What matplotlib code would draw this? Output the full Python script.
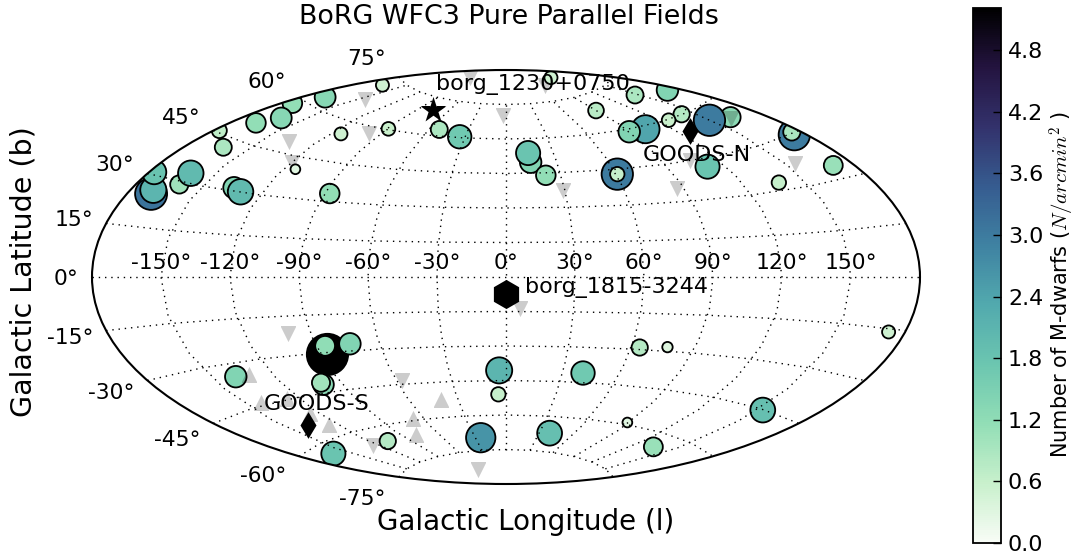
"""BoRG WFC3 pure parallel fields, M-dwarf counts on the sky (aitoff)"""
import numpy as np
import matplotlib
matplotlib.use('Agg')
import matplotlib.pyplot as plt
from matplotlib.colors import LinearSegmentedColormap, Normalize
from matplotlib.projections.geo import AitoffAxes
from matplotlib.transforms import Affine2D

# fields with M-dwarfs: galactic l, b in degrees, density in N/arcmin^2
field_l = [-169.4, -170.0, -177.8, -160.8, -161.0, -134.6, -130.0, -162.2, -177.4, -168.2,
           -175.0, -161.6, -169.0, -164.6, -113.4, -88.6, -113.8, -87.4, -52.2, -33.8,
           133.4, 144.8, 172.6, 88.4, 140.8, 126.0, 102.4, 89.8, 162.4, 148.4, 174.6, 175.8,
           170.6, 137.2, 110.6, 14.6, 14.0, 21.8, 60.6, 60.6,
           -86.8, -85.8, -73.8, -138.4, -99.6, -100.0, -159.6, -106.6, -24.4, -3.6, -4.6,
           40.8, 64.0, 77.0, 172.8, 152.6, 88.8, 134.4, 38.8]
field_b = [25.0, 26.2, 30.8, 29.2, 33.0, 31.2, 30.2, 42.2, 45.6, 50.8,
           58.4, 54.4, 63.2, 72.0, 55.4, 60.4, 40.6, 33.2, 62.8, 60.4,
           83.0, 69.6, 66.6, 68.8, 60.2, 59.8, 58.8, 59.0, 54.6, 56.0, 44.6, 45.4,
           34.2, 32.8, 42.0, 49.8, 53.8, 44.0, 43.0, 43.0,
           -30.8, -27.4, -27.2, -34.6, -42.0, -41.2, -63.6, -65.8, -69.6, -40.6, -51.0,
           -41.0, -29.2, -28.4, -16.0, -45.2, -59.2, -64.8, -67.2]
field_n = [3.12, 2.08, 1.8, 1.02, 1.98, 1.41, 1.98, 0.88, 0.69, 1.17,
           1.17, 1.33, 1.33, 0.52, 0.52, 0.57, 0.29, 1.17, 0.88, 1.68,
           0.52, 0.88, 1.41, 0.75, 0.81, 0.57, 2.4, 1.41, 1.25, 3.0, 3.0, 0.9,
           1.09, 0.63, 1.78, 1.41, 1.78, 1.17, 3.0, 0.63,
           5.2, 1.2, 1.41, 1.41, 1.3, 1.0, 1.78, 0.81, 2.63, 2.08, 0.63,
           1.68, 0.81, 0.33, 0.52, 1.88, 0.29, 1.09, 1.88]

# fields without detections, grey triangles
empty_down_l = [-142.4, -96.4, -134.6, -119.0, -2.6, 153.8, 104.8, 86.4, 29.2, 160.4,
                -100.4, -57.2, -123.4, -71.0, 6.2]
empty_down_b = [67.2, 57.4, 49.0, 84.0, 70.0, 37.2, 45.0, 35.2, 37.2, 54.2,
                -21.8, -43.8, -65.8, -82.8, -14.0]
under_l = [-118.4, 82.8]
under_b = [42.4, 81.2]
empty_up_l = [-130.6, -141.0, -125.2, -124.4, -124.4, -67.2, -77.4, -40.4]
empty_up_b = [-34.4, -43.8, -44.4, -50.8, -55.8, -59.2, -65.4, -52.2]

cb_ticks = [0.0, 0.6, 1.2, 1.8, 2.4, 3.0, 3.6, 4.2, 4.8]
cb_colors = ['#f8fcf6', '#c8f0cc', '#92deb6', '#6cc6b0', '#52aaae', '#3f82a2',
             '#365c90', '#33326c', '#241440', '#000000']

W, H = 1076.0, 557.0
plt.rcParams['mathtext.fontset'] = 'cm'
cmap = LinearSegmentedColormap.from_list('borg', cb_colors)
norm = Normalize(0, 5.21)

# coarse grid, parallels bend only every 30 degrees
AitoffAxes.RESOLUTION = 12

fig = plt.figure(figsize=(W / 100, H / 100), dpi=100)
ax = fig.add_axes([92 / W, 1 - 485 / H, 828 / W, 416 / H], projection='aitoff')
ax.set_longitude_grid_ends(75)

sc = ax.scatter(np.radians(field_l), np.radians(field_b), s=np.array(field_n) * 170, c=field_n,
                cmap=cmap, norm=norm, edgecolors='k', linewidths=1.3, zorder=2)
ax.scatter(np.radians(under_l), np.radians(under_b), s=120, marker='v', c='k', alpha=0.2,
           linewidths=0, zorder=1.5)
ax.scatter(np.radians(empty_down_l), np.radians(empty_down_b), s=120, marker='v', c='k', alpha=0.2,
           linewidths=0, zorder=2.2)
ax.scatter(np.radians(empty_up_l), np.radians(empty_up_b), s=120, marker='^', c='k', alpha=0.2,
           linewidths=0, zorder=2.2)


def mark(l, b, marker, size, label, off):
    ax.scatter(np.radians(l), np.radians(b), s=size, marker=marker, c='k', linewidths=0, zorder=5)
    ax.annotate(label, (np.radians(l), np.radians(b)), xytext=off, textcoords='offset points',
                fontsize=16, va='center', zorder=6)


mark(-74.2, 70.2, '*', 380, 'borg_1230+0750', (1.5, 18))
mark(-0.2, -7.4, 'h', 440, 'borg_1815-3244', (14, 5))
mark(126.6, 54.8, 'd', 185, 'GOODS-N', (-34, -17))
mark(-136.0, -54.2, 'd', 185, 'GOODS-S', (-32, 15))

# dots run over the circles in the original
ax.set_axisbelow(False)
ax.grid(True, color='k', linestyle=(0, (1, 3.5)), linewidth=1)
ax.tick_params(labelsize=15.7)
ax.spines['geo'].set_linewidth(1.5)

# latitude labels sit further out from the ellipse than the default
shift = Affine2D().translate(-5, -2)
for t in ax.yaxis.get_major_ticks():
    t.label1.set_transform(t.label1.get_transform() + shift)

cax = fig.add_axes([973 / W, 1 - 543 / H, 28 / W, 535 / H])
cb = fig.colorbar(sc, cax=cax, ticks=cb_ticks)
cb.ax.tick_params(labelsize=16, direction='in', length=6, width=1, pad=5)
cb.ax.set_yticklabels(['%.1f' % v for v in cb_ticks])
cb.outline.set_linewidth(1.3)
fig.text(1062 / W, 1 - 285 / H, 'Number of M-dwarfs ($N/arcmin^2$ )', rotation=90, fontsize=15,
         ha='center', va='center')

fig.text(509 / W, 1 - 17 / H, 'BoRG WFC3 Pure Parallel Fields', fontsize=19.4, ha='center', va='center')
fig.text(526 / W, 1 - 522 / H, 'Galactic Longitude (l)', fontsize=20, ha='center', va='center')
fig.text(24 / W, 1 - 272 / H, 'Galactic Latitude (b)', fontsize=20.5, rotation=90, ha='center', va='center')

fig.savefig('out.png', dpi=100)
